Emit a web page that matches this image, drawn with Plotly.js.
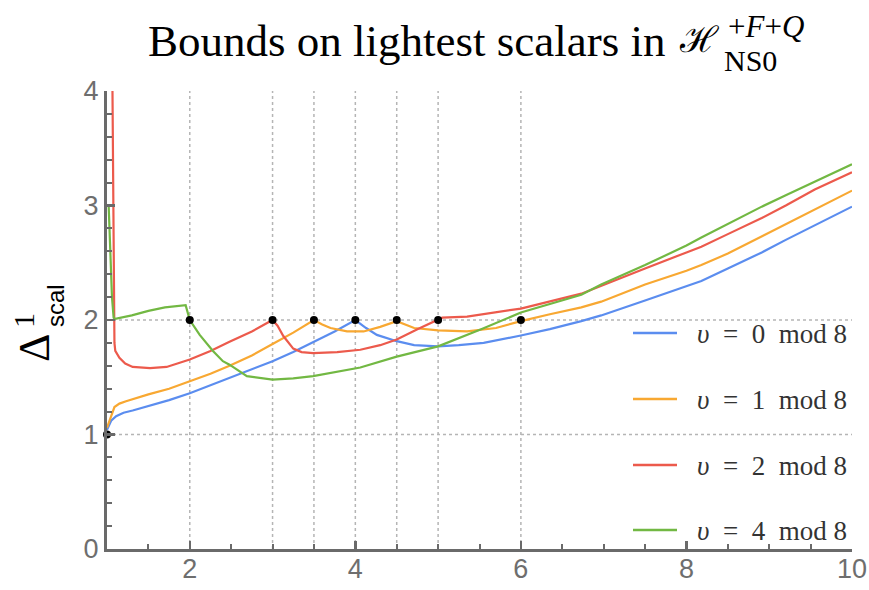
<!DOCTYPE html>
<html>
<head>
<meta charset="utf-8">
<script src="https://cdn.plot.ly/plotly-3.0.1.min.js"></script>
<style>html,body{margin:0;padding:0;background:#fff;}#chart{width:869px;height:590px;}</style>
</head>
<body>
<div id="chart"></div>
<script>
// ---- data ----
const seriesNames = ["0", "1", "2", "4"];

const x0 = [1.0, 1.02, 1.05, 1.11, 1.2, 1.31, 1.5, 1.75, 2.0, 2.25, 2.5, 2.75, 3.0, 3.25, 3.5, 3.75, 4.0, 4.13, 4.26, 4.5, 4.71, 5.0, 5.25, 5.55, 6.0, 6.35, 6.73, 6.97, 7.5, 8.0, 8.18, 8.5, 8.91, 9.2, 9.55, 10];
const y0 = [1.04, 1.07, 1.12, 1.16, 1.19, 1.21, 1.25, 1.30, 1.36, 1.43, 1.50, 1.57, 1.64, 1.72, 1.81, 1.90, 2.0, 1.93, 1.87, 1.815, 1.78, 1.77, 1.78, 1.80, 1.865, 1.92, 1.99, 2.04, 2.17, 2.30, 2.34, 2.45, 2.59, 2.70, 2.83, 2.99];

const x1 = [1.0, 1.02, 1.05, 1.09, 1.15, 1.23, 1.5, 1.75, 2.0, 2.25, 2.48, 2.75, 3.0, 3.25, 3.5, 3.6, 3.7, 3.9, 4.1, 4.3, 4.5, 4.6, 4.71, 5.0, 5.35, 5.7, 6.0, 6.35, 6.73, 6.97, 7.5, 8.0, 8.18, 8.5, 8.91, 9.2, 9.55, 10];
const y1 = [1.06, 1.10, 1.17, 1.24, 1.27, 1.29, 1.35, 1.40, 1.465, 1.53, 1.60, 1.69, 1.79, 1.89, 2.0, 1.96, 1.93, 1.90, 1.90, 1.94, 1.99, 1.96, 1.93, 1.91, 1.90, 1.93, 1.99, 2.05, 2.11, 2.16, 2.31, 2.43, 2.48, 2.58, 2.73, 2.83, 2.96, 3.13];

const x2 = [1.063, 1.075, 1.085, 1.09, 1.1, 1.15, 1.22, 1.31, 1.52, 1.72, 2.0, 2.25, 2.48, 2.75, 3.0, 3.06, 3.13, 3.25, 3.35, 3.49, 3.78, 4.06, 4.3, 4.5, 4.75, 5.0, 5.05, 5.35, 6.0, 6.73, 6.97, 7.5, 8.0, 8.18, 8.5, 8.91, 9.2, 9.55, 10];
const y2 = [4.3, 3.0, 2.2, 1.8, 1.73, 1.67, 1.62, 1.59, 1.58, 1.59, 1.655, 1.73, 1.81, 1.90, 2.0, 1.95, 1.86, 1.75, 1.72, 1.71, 1.72, 1.74, 1.78, 1.83, 1.92, 2.0, 2.02, 2.03, 2.10, 2.23, 2.30, 2.45, 2.59, 2.64, 2.75, 2.89, 3.0, 3.14, 3.29];

const x4 = [1.02, 1.04, 1.06, 1.08, 1.1, 1.3, 1.5, 1.7, 1.9, 1.95, 2.0, 2.12, 2.28, 2.4, 2.48, 2.69, 3.0, 3.25, 3.49, 4.06, 4.5, 5.0, 5.52, 6.0, 6.73, 6.97, 7.5, 8.0, 8.18, 8.5, 8.91, 9.2, 9.55, 10];
const y4 = [3.0, 2.6, 2.2, 2.02, 2.01, 2.04, 2.08, 2.11, 2.13, 2.13, 2.0, 1.87, 1.73, 1.64, 1.61, 1.51, 1.48, 1.49, 1.51, 1.585, 1.68, 1.77, 1.92, 2.065, 2.22, 2.31, 2.48, 2.65, 2.72, 2.84, 2.99, 3.09, 3.21, 3.36];

const dotX = [1, 2, 3, 3.5, 4, 4.5, 5, 6];
const dotY = [1, 2, 2, 2, 2, 2, 2, 2];

const gridX = [2, 3, 3.5, 4, 4.5, 5, 6];
const gridY = [1, 2];

const xTicks = [2, 4, 6, 8, 10];
const yTicks = [0, 1, 2, 3, 4];

// ---- styling ----
const colors = ["#5b8def", "#f8a832", "#ec5a4c", "#72b843"];
const W = 869, H = 590, ML = 107, MR = 17, MT = 91, MB = 41;
const PX = p => (p - ML) / (W - ML - MR);
const PY = p => (H - MB - p) / (H - MT - MB);
const serif = "Liberation Serif, Times New Roman, serif";
const axisGray = "#6a6a6a";
const NB = "\u00A0";

const xs = [x0, x1, x2, x4], ys = [y0, y1, y2, y4];
const traces = xs.map((xx, i) => ({
  x: xx, y: ys[i], type: "scatter", mode: "lines",
  name: "υ = " + seriesNames[i] + " mod 8",
  line: {color: colors[i], width: 2.2}, showlegend: false, hoverinfo: "skip"
}));
traces.push({
  x: dotX, y: dotY, type: "scatter", mode: "markers",
  marker: {color: "#000", size: 8}, cliponaxis: false, showlegend: false, hoverinfo: "skip"
});

const shapes = [];
gridX.forEach(v => shapes.push({type: "line", xref: "x", yref: "y", x0: v, x1: v, y0: 0, y1: 4,
  line: {color: "#b5b5b5", width: 1.5, dash: "dot"}, layer: "below"}));
gridY.forEach(v => shapes.push({type: "line", xref: "x", yref: "y", x0: 1, x1: 10, y0: v, y1: v,
  line: {color: "#b5b5b5", width: 1.5, dash: "dot"}, layer: "below"}));

const legendY = [333, 399, 465, 530];
const annotations = [];
seriesNames.forEach((s, i) => {
  shapes.push({type: "line", xref: "paper", yref: "paper", x0: PX(633), x1: PX(677),
    y0: PY(legendY[i]), y1: PY(legendY[i]), line: {color: colors[i], width: 2.5}});
  annotations.push({xref: "paper", yref: "paper", x: PX(695), y: PY(legendY[i] + 1),
    xanchor: "left", yanchor: "middle", showarrow: false,
    text: "<i>υ</i>" + NB + NB + "=" + NB + NB + s + NB + NB + "mod" + NB + "8",
    font: {family: serif, size: 27, color: "#333"}});
});

// title pieces (script H with super/subscripts)
annotations.push({xref: "paper", yref: "paper", x: PX(677), y: PY(40), xanchor: "left", yanchor: "middle",
  showarrow: false, text: "ℋ", font: {family: "DejaVu Serif, serif", size: 36, color: "#000"}});
annotations.push({xref: "paper", yref: "paper", x: PX(726), y: PY(27), xanchor: "left", yanchor: "middle",
  showarrow: false, text: "+<i>F</i>+<i>Q</i>", font: {family: serif, size: 31, color: "#000"}});
annotations.push({xref: "paper", yref: "paper", x: PX(722), y: PY(61), xanchor: "left", yanchor: "middle",
  showarrow: false, text: "NS0", font: {family: serif, size: 30, color: "#000"}});

// y-axis label pieces
annotations.push({xref: "paper", yref: "paper", x: PX(35), y: PY(348), xanchor: "center", yanchor: "middle",
  showarrow: false, textangle: -90, text: "Δ", font: {family: serif, size: 44, color: "#000"}});
annotations.push({xref: "paper", yref: "paper", x: PX(23), y: PY(321), xanchor: "center", yanchor: "middle",
  showarrow: false, textangle: -90, text: "1", font: {family: serif, size: 30, color: "#000"}});
annotations.push({xref: "paper", yref: "paper", x: PX(55), y: PY(306), xanchor: "center", yanchor: "middle",
  showarrow: false, textangle: -90, text: "scal", font: {family: "Liberation Sans, Arial, sans-serif", size: 24, color: "#000"}});

const tickFont = {family: "Liberation Sans Narrow, Arial Narrow, Liberation Sans, sans-serif", size: 27, color: "#6e6e6e"};

const layout = {
  width: W, height: H,
  margin: {l: ML, r: MR, t: MT, b: MB},
  paper_bgcolor: "#fff", plot_bgcolor: "#fff",
  title: {text: "Bounds on lightest scalars in", font: {family: serif, size: 45, color: "#000"},
    x: 148 / W, xanchor: "left", xref: "container", y: 1 - 40 / H, yref: "container", yanchor: "middle"},
  xaxis: {range: [1, 10], tickvals: xTicks, ticktext: xTicks.map(String), ticks: "inside", ticklen: 8, tickwidth: 2.5,
    tickcolor: axisGray, showline: true, linecolor: axisGray, linewidth: 3, showgrid: false, zeroline: false,
    tickfont: tickFont, ticklabelstandoff: -6,
    minor: {dtick: 0.5, tick0: 1, ticks: "inside", ticklen: 5, tickwidth: 2, tickcolor: axisGray, showgrid: false},
    fixedrange: true},
  yaxis: {range: [0, 4], tickvals: yTicks, ticktext: yTicks.map(String), ticks: "inside", ticklen: 8, tickwidth: 2.5,
    tickcolor: axisGray, showline: true, linecolor: axisGray, linewidth: 3, showgrid: false, zeroline: false,
    tickfont: tickFont,
    minor: {dtick: 0.2, tick0: 0, ticks: "inside", ticklen: 5, tickwidth: 2, tickcolor: axisGray, showgrid: false},
    fixedrange: true},
  shapes: shapes,
  annotations: annotations,
  showlegend: false
};

Plotly.newPlot("chart", traces, layout, {displayModeBar: false, staticPlot: true});
</script>
</body>
</html>
